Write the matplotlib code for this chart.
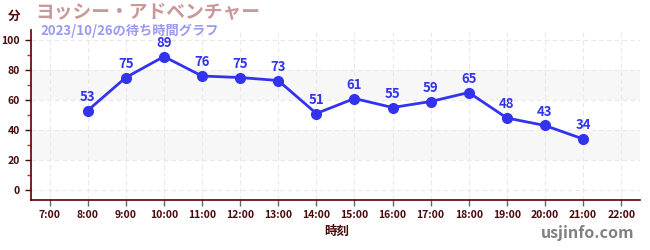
import matplotlib
matplotlib.use("Agg")
import matplotlib.pyplot as plt
from matplotlib.ticker import MultipleLocator

hours = [8, 9, 10, 11, 12, 13, 14, 15, 16, 17, 18, 19, 20, 21]
waits = [53, 75, 89, 76, 75, 73, 51, 61, 55, 59, 65, 48, 43, 34]
tick_hours = list(range(7, 23))
tick_labels = [f"{h}:00" for h in tick_hours]
title = "ヨッシー・アドベンチャー"
subtitle = "2023/10/26の待ち時間グラフ"

plt.rcParams['font.family'] = ['Noto Sans CJK JP', 'DejaVu Sans']

dark = '#4a0a0a'
blue = '#3333ee'

fig = plt.figure(figsize=(6.5, 2.5), dpi=100)
ax = fig.add_axes([0.047, 0.2, 0.938, 0.68])
ax.set_xlim(6.5, 22.5)
ax.set_ylim(-6.7, 106.7)

for lo, hi in [(20, 40), (60, 80)]:
    ax.axhspan(lo, hi, color='#f7f7f7', zorder=0, lw=0)

ax.set_xticks(tick_hours)
ax.set_xticklabels(tick_labels)
ax.set_yticks([0, 20, 40, 60, 80, 100])
ax.yaxis.set_minor_locator(MultipleLocator(10))
ax.grid(True, which='major', color='#e8e8e8', linestyle=(0, (4, 3)), lw=0.8, zorder=0)

ax.plot(hours, waits, color=blue, lw=2, marker='o', ms=7, zorder=3)
for h, w in zip(hours, waits):
    ax.annotate(str(w), (h, w), xytext=(0, 5), textcoords='offset points',
                ha='center', va='bottom', color=blue, fontsize=9.5, fontweight='bold')

for s in ['top', 'right']:
    ax.spines[s].set_visible(False)
for s in ['left', 'bottom']:
    ax.spines[s].set_color('#5a0000')
    ax.spines[s].set_linewidth(1.2)

ax.tick_params(axis='both', which='major', labelsize=7.5, colors=dark, length=4, width=1)
ax.tick_params(axis='x', which='major', color='#666666')
ax.tick_params(axis='y', which='minor', color='#dd2222', length=3, width=1)
for lbl in ax.get_xticklabels() + ax.get_yticklabels():
    lbl.set_fontweight('bold')

fig.text(337/650, 1 - 231/250, "時刻", ha='center', va='center', color=dark, fontsize=9, fontweight='bold')
fig.text(14/650, 1 - 16/250, "分", ha='center', va='center', color=dark, fontsize=9, fontweight='bold')
fig.text(35/650, 1 - 13/250, title, ha='left', va='center', color='#c89898', fontsize=13.5, fontweight='bold')
fig.text(40/650, 1 - 31/250, subtitle, ha='left', va='center', color='#9a9af0', fontsize=9.5, fontweight='bold')
fig.text(634/650, 1 - 233/250, "usjinfo.com", ha='right', va='center', color='#808080', fontsize=11.5, fontweight='bold')

fig.savefig("out.png", dpi=100)
